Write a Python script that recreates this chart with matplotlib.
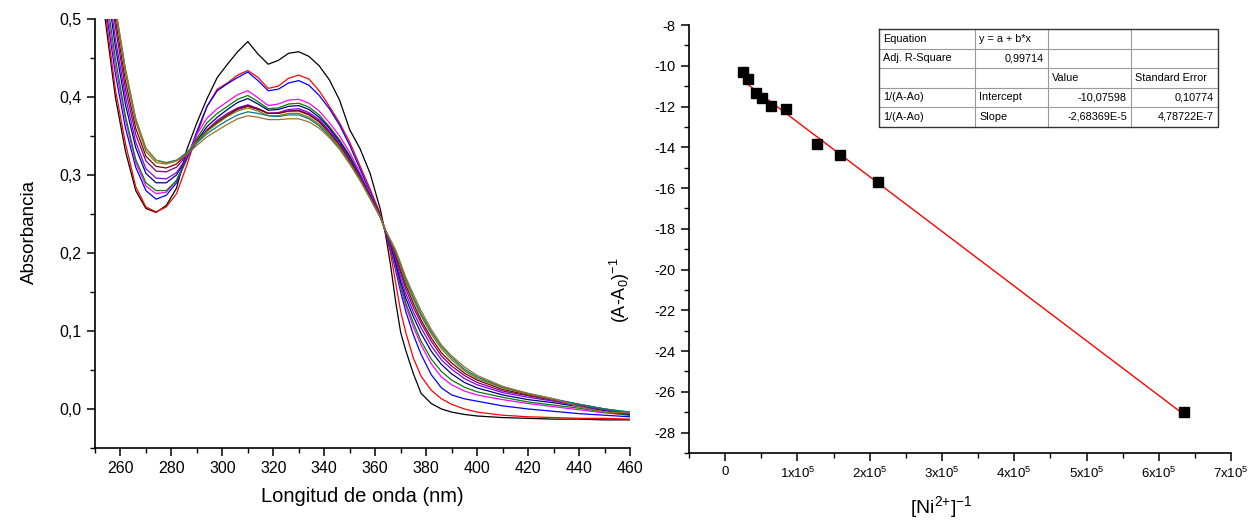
import numpy as np
import matplotlib
matplotlib.use("Agg")
import matplotlib.pyplot as plt
from matplotlib.ticker import MultipleLocator, FuncFormatter

plt.rcParams['font.family'] = ['Liberation Sans', 'DejaVu Sans']
plt.rcParams['mathtext.fontset'] = 'custom'
plt.rcParams['mathtext.rm'] = 'Liberation Sans'
plt.rcParams['mathtext.it'] = 'Liberation Sans:italic'
plt.rcParams['mathtext.default'] = 'regular'
plt.rcParams['axes.unicode_minus'] = False


# UV-Vis spectra (titration)
wavelength = [250, 254, 258, 262, 266, 270, 274, 278, 282, 286, 290, 294, 298, 302, 306, 310,
              314, 318, 322, 326, 330, 334, 338, 342, 346, 350, 354, 358, 362, 364, 366, 368,
              370, 372, 375, 378, 382, 386, 390, 395, 400, 410, 420, 430, 440, 450, 460]

abs_black = [0.61, 0.50, 0.40, 0.33, 0.28, 0.257, 0.252, 0.261, 0.283, 0.332, 0.367, 0.398, 0.425, 0.442, 0.458, 0.471,
             0.455, 0.442, 0.447, 0.456, 0.458, 0.452, 0.440, 0.422, 0.396, 0.358, 0.334, 0.302, 0.256, 0.225, 0.185, 0.138,
             0.098, 0.075, 0.045, 0.02, 0.007, 0.0, -0.004, -0.007, -0.009, -0.011, -0.012, -0.013, -0.013, -0.014, -0.014]
abs_red = [0.62, 0.51, 0.41, 0.34, 0.285, 0.259, 0.2526, 0.259, 0.276, 0.312, 0.352, 0.388, 0.41, 0.418, 0.428, 0.434,
           0.425, 0.411, 0.414, 0.424, 0.428, 0.423, 0.408, 0.388, 0.367, 0.342, 0.312, 0.282, 0.25, 0.226, 0.2, 0.162,
           0.125, 0.098, 0.065, 0.042, 0.024, 0.013, 0.006, 0.0, -0.004, -0.008, -0.010, -0.011, -0.012, -0.012, -0.013]
abs_blue = [0.63, 0.52, 0.43, 0.36, 0.31, 0.28, 0.269, 0.274, 0.29, 0.32, 0.356, 0.388, 0.408, 0.417, 0.425, 0.432,
            0.421, 0.408, 0.41, 0.418, 0.421, 0.415, 0.402, 0.385, 0.364, 0.338, 0.308, 0.278, 0.248, 0.227, 0.205, 0.178,
            0.15, 0.125, 0.095, 0.07, 0.044, 0.027, 0.018, 0.013, 0.01, 0.004, 0.0, -0.003, -0.006, -0.008, -0.010]
abs_magenta = [0.64, 0.53, 0.44, 0.37, 0.316, 0.286, 0.276, 0.278, 0.293, 0.322, 0.352, 0.373, 0.385, 0.394, 0.403, 0.408,
               0.399, 0.389, 0.391, 0.396, 0.397, 0.392, 0.382, 0.367, 0.35, 0.329, 0.303, 0.276, 0.247, 0.229, 0.208, 0.182,
               0.155, 0.132, 0.105, 0.082, 0.058, 0.041, 0.031, 0.023, 0.018, 0.012, 0.007, 0.003, -0.001, -0.005, -0.008]
abs_green = [0.65, 0.54, 0.45, 0.375, 0.32, 0.29, 0.28, 0.28, 0.293, 0.32, 0.347, 0.367, 0.379, 0.388, 0.397, 0.402,
             0.394, 0.385, 0.386, 0.391, 0.392, 0.387, 0.377, 0.362, 0.345, 0.325, 0.3, 0.274, 0.247, 0.229, 0.21, 0.185,
             0.158, 0.136, 0.11, 0.087, 0.064, 0.048, 0.037, 0.028, 0.022, 0.015, 0.009, 0.005, 0.001, -0.004, -0.008]
abs_navy = [0.66, 0.56, 0.465, 0.39, 0.335, 0.302, 0.29, 0.29, 0.3, 0.322, 0.344, 0.362, 0.374, 0.384, 0.393, 0.398,
            0.391, 0.383, 0.384, 0.388, 0.389, 0.384, 0.374, 0.36, 0.343, 0.323, 0.299, 0.273, 0.246, 0.229, 0.211, 0.188,
            0.163, 0.142, 0.118, 0.097, 0.074, 0.057, 0.045, 0.034, 0.027, 0.018, 0.012, 0.008, 0.003, -0.002, -0.007]
abs_violet = [0.67, 0.57, 0.475, 0.40, 0.342, 0.308, 0.296, 0.295, 0.303, 0.322, 0.342, 0.358, 0.37, 0.379, 0.386, 0.39,
              0.385, 0.379, 0.38, 0.384, 0.385, 0.38, 0.371, 0.357, 0.341, 0.321, 0.298, 0.272, 0.246, 0.229, 0.212, 0.192,
              0.168, 0.148, 0.124, 0.104, 0.081, 0.063, 0.051, 0.039, 0.031, 0.021, 0.015, 0.01, 0.004, -0.001, -0.006]
abs_purple = [0.69, 0.59, 0.49, 0.41, 0.352, 0.318, 0.305, 0.304, 0.31, 0.325, 0.342, 0.356, 0.367, 0.376, 0.384, 0.388,
              0.384, 0.379, 0.379, 0.382, 0.383, 0.378, 0.369, 0.355, 0.339, 0.319, 0.297, 0.272, 0.246, 0.229, 0.213, 0.196,
              0.174, 0.154, 0.13, 0.11, 0.087, 0.068, 0.055, 0.043, 0.034, 0.023, 0.017, 0.011, 0.005, 0.0, -0.005]
abs_wine = [0.70, 0.60, 0.50, 0.42, 0.36, 0.324, 0.311, 0.309, 0.314, 0.327, 0.343, 0.357, 0.368, 0.377, 0.385, 0.389,
            0.385, 0.379, 0.379, 0.382, 0.382, 0.377, 0.368, 0.354, 0.338, 0.318, 0.296, 0.271, 0.246, 0.229, 0.214, 0.198,
            0.178, 0.159, 0.135, 0.114, 0.091, 0.072, 0.059, 0.046, 0.037, 0.025, 0.018, 0.012, 0.006, 0.0, -0.005]
abs_olive = [0.71, 0.61, 0.51, 0.43, 0.368, 0.33, 0.316, 0.314, 0.318, 0.329, 0.343, 0.356, 0.366, 0.375, 0.382, 0.386,
             0.382, 0.376, 0.376, 0.379, 0.379, 0.374, 0.365, 0.352, 0.336, 0.316, 0.295, 0.27, 0.246, 0.229, 0.215, 0.2,
             0.182, 0.163, 0.14, 0.119, 0.096, 0.077, 0.063, 0.049, 0.039, 0.027, 0.019, 0.012, 0.006, 0.0, -0.004]
abs_darkcyan = [0.72, 0.62, 0.515, 0.435, 0.372, 0.334, 0.319, 0.316, 0.319, 0.328, 0.341, 0.353, 0.362, 0.37, 0.377, 0.381,
                0.379, 0.376, 0.375, 0.377, 0.377, 0.372, 0.363, 0.35, 0.334, 0.315, 0.294, 0.27, 0.246, 0.229, 0.216, 0.202,
                0.185, 0.166, 0.143, 0.122, 0.099, 0.08, 0.066, 0.051, 0.041, 0.028, 0.02, 0.013, 0.006, 0.0, -0.004]
abs_brown = [0.72, 0.62, 0.515, 0.435, 0.372, 0.334, 0.319, 0.315, 0.318, 0.326, 0.338, 0.349, 0.357, 0.365, 0.372, 0.376,
             0.374, 0.371, 0.371, 0.372, 0.372, 0.368, 0.36, 0.348, 0.333, 0.314, 0.293, 0.27, 0.246, 0.229, 0.217, 0.204,
             0.187, 0.169, 0.147, 0.126, 0.102, 0.082, 0.068, 0.054, 0.043, 0.029, 0.02, 0.013, 0.003, -0.004, -0.005]

spectra = [abs_black, abs_red, abs_blue, abs_magenta, abs_green, abs_navy,
           abs_violet, abs_purple, abs_wine, abs_olive, abs_darkcyan, abs_brown]
spectra_colors = ['#000000', '#FF0000', '#0000FF', '#FF00FF', '#008000', '#000080',
                  '#8000FF', '#800080', '#800000', '#808000', '#008080', '#A0702A']

# double reciprocal plot
ni_inv = [2.53e4, 3.22e4, 4.29e4, 5.08e4, 6.32e4, 8.44e4, 1.268e5, 1.591e5, 2.12e5, 6.35e5]
inv_dA = [-10.31, -10.63, -11.35, -11.58, -11.97, -12.13, -13.82, -14.38, -15.71, -27.0]

# linear fit results (from the table)
fit_intercept = -10.07598
fit_slope = -2.68369e-5

table_rows = [
    ["Equation", "y = a + b*x", "", ""],
    ["Adj. R-Square", "0,99714", "", ""],
    ["", "", "Value", "Standard Error"],
    ["1/(A-Ao)", "Intercept", "-10,07598", "0,10774"],
    ["1/(A-Ao)", "Slope", "-2,68369E-5", "4,78722E-7"],
]
table_align = [
    ["left", "left", "left", "left"],
    ["left", "right", "left", "left"],
    ["left", "left", "left", "left"],
    ["left", "left", "right", "right"],
    ["left", "left", "right", "right"],
]


fig = plt.figure(figsize=(12.51, 5.20), dpi=100)


def style_axes(ax):
    for side in ["top", "right"]:
        ax.spines[side].set_visible(False)
    for side in ["left", "bottom"]:
        ax.spines[side].set_linewidth(1.2)
    ax.tick_params(which="major", direction="out", length=6, width=1.1)
    ax.tick_params(which="minor", direction="out", length=3.5, width=1.0)


# left: spectra
ax1 = fig.add_axes([0.0759, 0.1385, 0.4277, 0.825])

for series, color in zip(spectra, spectra_colors):
    ax1.plot(wavelength, series, color=color, lw=0.9)

ax1.set_xlim(250, 460)
ax1.set_ylim(-0.05, 0.5)
style_axes(ax1)
ax1.xaxis.set_major_locator(MultipleLocator(20))
ax1.xaxis.set_minor_locator(MultipleLocator(10))
ax1.yaxis.set_major_locator(MultipleLocator(0.1))
ax1.yaxis.set_minor_locator(MultipleLocator(0.05))
ax1.yaxis.set_major_formatter(FuncFormatter(lambda v, p: f"{v:.1f}".replace(".", ",").replace("-0,0", "0,0")))
ax1.tick_params(labelsize=11.5)

ax1.set_xlabel("Longitud de onda (nm)", fontsize=14.5)
ax1.xaxis.set_label_coords(0.5, -0.09)
ax1.set_ylabel("Absorbancia", fontsize=13.5)
ax1.yaxis.set_label_coords(-0.107, 0.503)


# right: linear fit
ax2 = fig.add_axes([0.5508, 0.1288, 0.4333, 0.8231])

fit_x = np.array([min(ni_inv), max(ni_inv)])
ax2.plot(fit_x, fit_intercept + fit_slope * fit_x, color="#FF0000", lw=1.0, zorder=2)
ax2.plot(ni_inv, inv_dA, linestyle="none", marker="s", markersize=7.5,
         color="black", zorder=3)

ax2.set_xlim(-0.5e5, 7e5)
ax2.set_ylim(-29, -8)
style_axes(ax2)
ax2.xaxis.set_major_locator(MultipleLocator(1e5))
ax2.xaxis.set_minor_locator(MultipleLocator(0.5e5))
ax2.yaxis.set_major_locator(MultipleLocator(2))
ax2.yaxis.set_minor_locator(MultipleLocator(1))
ax2.xaxis.set_major_formatter(FuncFormatter(
    lambda v, p: "0" if abs(v) < 1 else r"$%dx10^{5}$" % round(v / 1e5)))
ax2.tick_params(axis="y", labelsize=10.5)
ax2.tick_params(axis="x", labelsize=9.5)

ax2.set_xlabel(r"[Ni$^{2{+}}$]$^{{-}1}$", fontsize=14)
ax2.xaxis.set_label_coords(0.465, -0.095)
ax2.set_ylabel(r"(A-A$_0$)$^{{-}1}$", fontsize=13)
ax2.yaxis.set_label_coords(-0.105, 0.38)


# fit table (drawn in figure pixel space)
tab = fig.add_axes([0, 0, 1, 1])
tab.set_xlim(0, 1251)
tab.set_ylim(520, 0)
tab.set_axis_off()

col_edges = [879, 975, 1048, 1131, 1218]
row_top = 29
row_h = 19.5
n_rows = len(table_rows)

for i in range(1, n_rows):
    y = row_top + i * row_h
    tab.plot([col_edges[0], col_edges[-1]], [y, y], color="#9a9a9a", lw=0.8)
for xe in col_edges[1:-1]:
    tab.plot([xe, xe], [row_top, row_top + n_rows * row_h], color="#9a9a9a", lw=0.8)
tab.plot([col_edges[0], col_edges[-1], col_edges[-1], col_edges[0], col_edges[0]],
         [row_top, row_top, row_top + n_rows * row_h, row_top + n_rows * row_h, row_top],
         color="#333333", lw=1.0)

for i, row in enumerate(table_rows):
    yc = row_top + (i + 0.5) * row_h
    for j, txt in enumerate(row):
        if not txt:
            continue
        if table_align[i][j] == "left":
            tab.text(col_edges[j] + 4, yc, txt, ha="left", va="center", fontsize=7.8)
        else:
            tab.text(col_edges[j + 1] - 4, yc, txt, ha="right", va="center", fontsize=7.8)

fig.savefig("out.png", dpi=100)
